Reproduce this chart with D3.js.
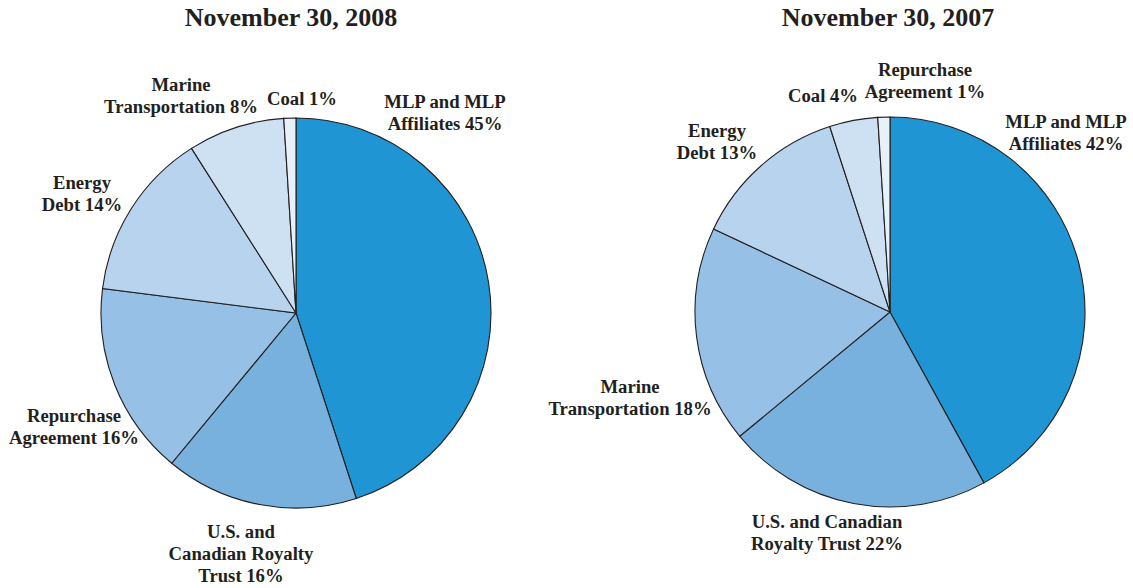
<!DOCTYPE html>
<html>
<head>
<meta charset="utf-8">
<script src="https://cdn.jsdelivr.net/npm/d3@7"></script>
<style>
  body { margin: 0; background: #fff; }
  text { font-family: "Liberation Serif", "Times New Roman", serif; font-weight: bold; fill: #231f20; }
</style>
</head>
<body>
<script>
// data (clockwise from 12 o'clock)
var titles = ["November 30, 2008", "November 30, 2007"];

var labels2008 = [["MLP and MLP", "Affiliates 45%"], ["U.S. and", "Canadian Royalty", "Trust 16%"],
                  ["Repurchase", "Agreement 16%"], ["Energy", "Debt 14%"],
                  ["Marine", "Transportation 8%"], ["Coal 1%"]];
var values2008 = [45, 16, 16, 14, 8, 1];

var labels2007 = [["MLP and MLP", "Affiliates 42%"], ["U.S. and Canadian", "Royalty Trust 22%"],
                  ["Marine", "Transportation 18%"], ["Energy", "Debt 13%"],
                  ["Coal 4%"], ["Repurchase", "Agreement 1%"]];
var values2007 = [42, 22, 18, 13, 4, 1];

// slice colours by position
var colors = ["#1f95d3", "#78b1de", "#97c0e7", "#b8d3ee", "#cee1f3", "#e8f0fa"];

// layout
var w = 1133, h = 588;
var r = 195;
var lineGap = 22.3;
// labelAt = baseline of first line, text centred on x
var pies = [
  { cx: 296, cy: 313, titleX: 291, values: values2008, labels: labels2008,
    labelAt: [[445, 107.5], [241, 537.5], [74, 421.5], [82, 188.5], [181, 90.5], [302, 105]] },
  { cx: 890, cy: 312, titleX: 888, values: values2007, labels: labels2007,
    labelAt: [[1066, 128], [827, 528], [630, 392.5], [717, 137], [823, 101.5], [925, 76]] }
];

var svg = d3.select("body").append("svg")
    .attr("width", w)
    .attr("height", h);

var pie = d3.pie().sort(null).value(function(d) { return d; });
var arc = d3.arc().innerRadius(0).outerRadius(r);

pies.forEach(function(p, k) {
    svg.append("text")
        .attr("x", p.titleX)
        .attr("y", 26)
        .attr("text-anchor", "middle")
        .style("font-size", "26px")
        .text(titles[k]);

    var g = svg.append("g").attr("transform", "translate(" + p.cx + "," + p.cy + ")");
    g.selectAll("path")
        .data(pie(p.values))
        .enter()
        .append("path")
        .attr("d", arc)
        .attr("fill", function(d, i) { return colors[i]; })
        .attr("stroke", "#231f20")
        .attr("stroke-width", 1.1);

    //labels, one tspan per line
    p.labels.forEach(function(lines, i) {
        var t = svg.append("text")
            .attr("text-anchor", "middle")
            .style("font-size", "18.7px");
        lines.forEach(function(line, j) {
            t.append("tspan")
                .attr("x", p.labelAt[i][0])
                .attr("y", p.labelAt[i][1] + j * lineGap)
                .text(line);
        });
    });
});
</script>
</body>
</html>
